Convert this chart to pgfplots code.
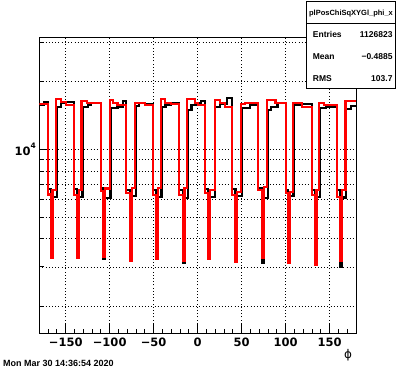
\documentclass[border=0pt]{standalone}
\usepackage{fontspec}
\setmainfont{Liberation Sans}
\newfontfamily\tickfont{DejaVu Sans}
\usepackage{pgfplots}
\pgfplotsset{compat=1.18}
\begin{document}
\begin{tikzpicture}
\useasboundingbox (0,0) rectangle (396pt,372pt);
\begin{axis}[
  at={(39.3pt,38.7pt)}, anchor=south west,
  scale only axis, width=316.7pt, height=296pt,
  ymode=log, xmin=-180, xmax=180, ymin=1520, ymax=31500,
  xtick={-150,-100,-50,0,50,100,150},
  xticklabels={−150,−100,−50,0,50,100,150},
  minor xtick={-170,-160,-140,-130,-120,-110,-90,-80,-70,-60,-40,-30,-20,-10,10,20,30,40,60,70,80,90,110,120,130,140,160,170},
  ytick={10000},
  yticklabels={10\raisebox{0.6em}{\fontsize{7.5}{8}\selectfont 4}},
  minor ytick={2000,3000,4000,5000,6000,7000,8000,9000,20000,30000},
  xmajorgrids, ymajorgrids, yminorgrids,
  major grid style={black, line width=0.7pt, dash pattern=on 0.8pt off 2.4pt},
  minor grid style={black, line width=0.7pt, dash pattern=on 0.8pt off 2.4pt},
  tick pos=left, tick align=inside,
  major tick length=9pt, minor tick length=4.5pt,
  tick style={black, line width=0.9pt},
  minor tick style={black, line width=0.9pt},
  axis line style={black, line width=1pt},
  ticklabel style={font=\tickfont\bfseries\fontsize{11.5}{13}\selectfont},
  xticklabel style={yshift=-1pt},
  xlabel={ϕ},
  xlabel style={at={(axis description cs:0.975,-0.085)}, anchor=base, font=\tickfont\fontsize{12}{14}\selectfont},
]
\addplot[black, line width=2.2pt, const plot] coordinates {
(-180,15740) (-175,16180)
(-170,6650) (-167,3290) (-165,6160) (-160,15460) (-155,16010) (-150,16180)
(-141,6650) (-137,3290) (-135,6160) (-131,15420) (-125,15810) (-121,16110)
(-110,6700) (-107,3250) (-105,6055) (-99,15210) (-91,15460) (-85,16400)
(-81,6600) (-77,3180) (-75,6200) (-70,15570) (-67,16010) (-60,15880)
(-51,6600) (-47,3250) (-45,6150) (-41,15370) (-36.5,15740) (-30.5,16010)
(-21,6600) (-17,3130) (-15,6050) (-11,14950) (-7,15740) (-1.5,16110) (4,16440)
(8,6650) (12,3250) (14,6150) (20,15460) (25.5,15880) (33,16850)
(39,6650) (43,3160) (45,6200) (50,15210) (59.5,15740)
(69,6700) (73,3130) (75,6055) (80,14950) (83,15460) (90.7,16010)
(100,6600) (103,3170) (105,6200) (109,15740) (119,15880)
(130,6600) (133,3060) (135,6150) (139,15210) (145.5,15370)
(158,6600) (162,3000) (164.5,6100) (169,15060) (174.4,15570)
(180,15570)
};
\addplot[red, line width=2.2pt, const plot] coordinates {
(-180,15850)
(-170,6300) (-167,3290) (-165,6600) (-161,16690) (-155,16180) (-150,15740)
(-141,6270) (-137,3290) (-135,6600) (-132,16350) (-126,16100)
(-110,6500) (-107,3310) (-105,6700) (-100,16560) (-96,16010) (-91,15740)
(-81,6380) (-77,3180) (-75,6710) (-71,16110) (-60,15740)
(-51,6270) (-47,3250) (-45,6710) (-42,16690) (-37.5,16110) (-30,15880)
(-21,6270) (-17,3200) (-15,6710) (-12,16690) (-3,16110) (0,15740)
(8,6400) (12,3250) (14,6590) (20,16560) (25.5,16110) (31,15460)
(39,6270) (43,3160) (45,6480) (49,15880) (54,16010)
(69,6590) (73,3290) (75,6820) (79,16560) (88.5,16010)
(100,6380) (103,3140) (105,6480) (108,16110) (115,16010) (119,15370)
(130,6270) (133,3060) (135,6590) (138,16110) (144,15740)
(158,6160) (162,3200) (164.5,6590) (168,16440)
(180,16440)
};
\end{axis}
\draw[black, line width=1pt, fill=white] (306.7pt,283.7pt) rectangle (395.3pt,370.3pt);
\draw[black, line width=1pt] (306.7pt,348pt) -- (395.3pt,348pt);
\node[font=\bfseries\fontsize{7.5}{8}\selectfont, anchor=base] at (351pt,356pt) {plPosChiSqXYGl\_phi\_x};
\begin{scope}[every node/.style={font=\bfseries\fontsize{8.5}{9}\selectfont, inner sep=0pt}]
\node[anchor=base west] at (312.7pt,334.7pt) {Entries};
\node[anchor=base east] at (392.7pt,334.7pt) {1126823};
\node[anchor=base west] at (312.7pt,312.7pt) {Mean};
\node[anchor=base east] at (392.7pt,312.7pt) {−0.4885};
\node[anchor=base west] at (312.7pt,290.3pt) {RMS};
\node[anchor=base east] at (392.7pt,290.3pt) {103.7};
\end{scope}
\node[font=\bfseries\fontsize{9}{10}\selectfont, anchor=base west, inner sep=0pt] at (3pt,5.3pt) {Mon Mar 30 14:36:54 2020};
\end{tikzpicture}
\end{document}
